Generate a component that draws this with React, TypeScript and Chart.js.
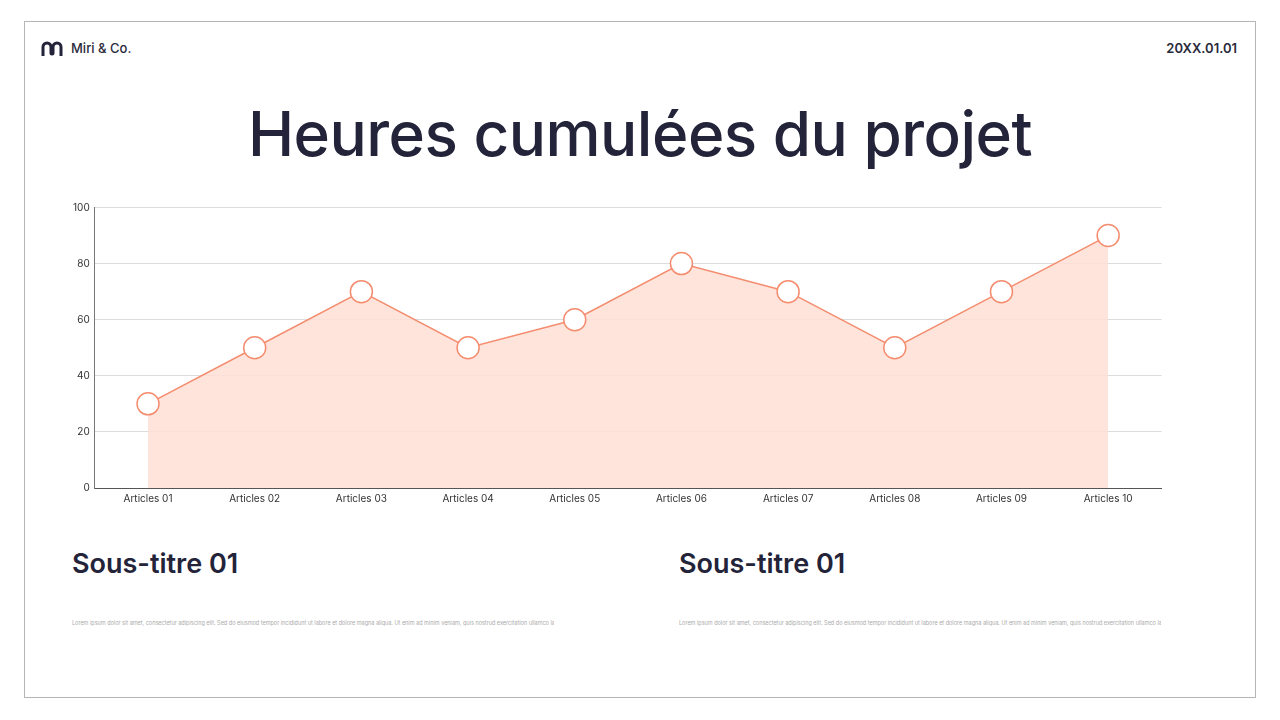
import React, { useEffect, useRef } from "react";
import { Chart, registerables } from "chart.js";

Chart.register(...registerables);

const categories = ["Articles 01", "Articles 02", "Articles 03", "Articles 04", "Articles 05", "Articles 06", "Articles 07", "Articles 08", "Articles 09", "Articles 10"];
const hours = [30, 50, 70, 50, 60, 80, 70, 50, 70, 90];
const yTicks = [0, 20, 40, 60, 80, 100];

const title = "Heures cumulées du projet";
const subtitles = ["Sous-titre 01", "Sous-titre 01"];
const lorem = "Lorem ipsum dolor sit amet, consectetur adipiscing elit. Sed do eiusmod tempor incididunt ut labore et dolore magna aliqua. Ut enim ad minim veniam, quis nostrud exercitation ullamco laboris nisi";

const FONT = "Inter, 'Noto Sans', sans-serif";
const DARK = "#23233a";

function LineChart() {
  const ref = useRef<HTMLCanvasElement | null>(null);
  useEffect(() => {
    if (!ref.current) return;
    const chart = new Chart(ref.current, {
      type: "line",
      data: {
        labels: categories,
        datasets: [
          {
            data: hours,
            borderColor: "#f48d6f",
            borderWidth: 1.5,
            backgroundColor: "rgba(255, 223, 213, 0.85)",
            fill: true,
            tension: 0,
            pointRadius: 11,
            pointHoverRadius: 11,
            pointBackgroundColor: "#ffffff",
            pointBorderColor: "#f48d6f",
            pointBorderWidth: 1.5,
          },
        ],
      },
      options: {
        animation: false,
        responsive: true,
        maintainAspectRatio: false,
        layout: { padding: { top: 4, right: 8, left: 0, bottom: 0 } },
        plugins: { legend: { display: false }, tooltip: { enabled: false } },
        scales: {
          x: {
            offset: true,
            grid: { display: false, drawTicks: false },
            border: { color: "#555", width: 1 },
            ticks: { color: "#333", font: { family: FONT, size: 10 }, padding: 5, maxRotation: 0 },
          },
          y: {
            min: 0,
            max: 100,
            afterBuildTicks: (axis: any) => {
              axis.ticks = yTicks.map((v) => ({ value: v }));
            },
            grid: { color: "#dcdcdc", drawTicks: false },
            border: { color: "#777", width: 1 },
            ticks: { color: "#333", font: { family: FONT, size: 10 }, padding: 5 },
          },
        },
      },
    });
    return () => chart.destroy();
  }, []);
  return <canvas ref={ref} />;
}

function Logo() {
  return (
    <svg width="22" height="16" viewBox="0 0 22 16" style={{ position: "absolute", left: 41, top: 41 }}>
      <path d="M2 15 V6 a4 4 0 0 1 8 0 V12 a1 1 0 0 0 2 0 V6 a4 4 0 0 1 8 0 V15" fill="none" stroke={DARK} strokeWidth="3" strokeLinecap="butt" />
    </svg>
  );
}

export default function App() {
  return (
    <div style={{ position: "fixed", left: 0, top: 0, width: 1280, height: 720, background: "#fff", fontFamily: FONT, overflow: "hidden" }}>
      <div style={{ position: "absolute", left: 24, top: 21, width: 1230, height: 675, border: "1.5px solid #b5b5b5" }} />
      <Logo />
      <div style={{ position: "absolute", left: 71, top: 40, fontSize: 13, color: "#2a2a3a", fontWeight: 500 }}>Miri &amp; Co.</div>
      <div style={{ position: "absolute", right: 43, top: 40, fontSize: 13, color: "#2a2a3a", fontWeight: 600 }}>20XX.01.01</div>
      <div style={{ position: "absolute", left: 0, width: 1280, top: 96, textAlign: "center", fontSize: 62, fontWeight: 500, color: DARK, letterSpacing: -0.5 }}>{title}</div>
      <div style={{ position: "absolute", left: 68, top: 195, width: 1106, height: 315 }}>
        <LineChart />
      </div>
      <div style={{ position: "absolute", left: 72, top: 547, fontSize: 27, fontWeight: 600, color: DARK }}>{subtitles[0]}</div>
      <div style={{ position: "absolute", left: 679, top: 547, fontSize: 27, fontWeight: 600, color: DARK }}>{subtitles[1]}</div>
      <div style={{ position: "absolute", left: 72, top: 620, width: 482, fontSize: 5.5, color: "#aaa", whiteSpace: "nowrap", overflow: "hidden" }}>{lorem}</div>
      <div style={{ position: "absolute", left: 679, top: 620, width: 482, fontSize: 5.5, color: "#aaa", whiteSpace: "nowrap", overflow: "hidden" }}>{lorem}</div>
    </div>
  );
}
